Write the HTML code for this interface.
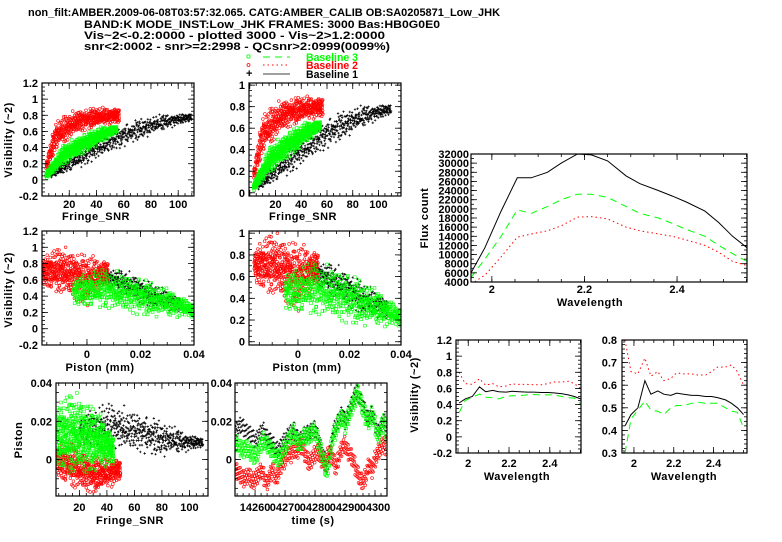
<!DOCTYPE html>
<html><head><meta charset="utf-8"><style>
body{margin:0;background:#fff}
svg{display:block;font-family:"Liberation Sans",sans-serif;font-weight:bold}
text{font-size:11px}
</style></head><body>
<svg id="chart" width="782" height="542" viewBox="0 0 782 542">
<g font-size="11">
<text x="28" y="16" textLength="472" lengthAdjust="spacingAndGlyphs">non_filt:AMBER.2009-06-08T03:57:32.065.  CATG:AMBER_CALIB  OB:SA0205871_Low_JHK</text>
<text x="84" y="28" textLength="356" lengthAdjust="spacingAndGlyphs">BAND:K  MODE_INST:Low_JHK  FRAMES:  3000  Bas:HB0G0E0</text>
<text x="84" y="39" textLength="301" lengthAdjust="spacingAndGlyphs">Vis~2&lt;-0.2:0000  -  plotted  3000  -  Vis~2&gt;1.2:0000</text>
<text x="84" y="50" textLength="306" lengthAdjust="spacingAndGlyphs">snr&lt;2:0002  -  snr&gt;=2:2998  -  QCsnr&gt;2:0999(0099%)</text>
</g>
<g>
<rect x="247" y="55" width="3" height="3" fill="none" stroke="#0f0" stroke-width="0.8"/>
<line x1="263" y1="57" x2="290" y2="57" stroke="#0f0" stroke-dasharray="7,5"/>
<text x="306" y="61" fill="#0f0" textLength="52" lengthAdjust="spacingAndGlyphs">Baseline 3</text>
<circle cx="248.5" cy="65" r="1.5" fill="none" stroke="#f00" stroke-width="0.8"/>
<line x1="263" y1="65" x2="290" y2="65" stroke="#f00" stroke-dasharray="1.5,3"/>
<text x="306" y="69" fill="#f00" textLength="52" lengthAdjust="spacingAndGlyphs">Baseline 2</text>
<text x="246" y="77" font-size="8">+</text>
<line x1="263" y1="74" x2="290" y2="74" stroke="#000" stroke-width="0.8"/>
<text x="306" y="78" textLength="52" lengthAdjust="spacingAndGlyphs">Baseline 1</text>
</g>
<g id="plots"></g>
</svg>
<script>
// ---- line data (wavelength panels) ----
const wavelengths=[1.955,1.985,2.02,2.055,2.085,2.12,2.15,2.185,2.215,2.25,2.29,2.32,2.36,2.39,2.42,2.46,2.49,2.52,2.551];
const fluxB1=[6000,11500,19500,26800,26800,28000,30000,32000,31800,30500,27200,25500,24000,22800,21500,19500,17000,14000,11500];
const fluxB3=[5000,9000,14000,19800,19000,20500,22000,23200,23200,22500,20500,19000,18000,16800,15500,14000,12000,10200,8500];
const fluxB2=[3500,5500,9500,13800,14500,15200,16300,18200,18300,17800,16000,15200,14500,14000,13200,12000,10500,8500,7600];
const visB1=[0.42,0.47,0.5,0.62,0.56,0.575,0.56,0.555,0.565,0.56,0.555,0.555,0.55,0.55,0.545,0.535,0.52,0.5,0.47];
const visB2=[0.8,0.66,0.65,0.72,0.64,0.66,0.62,0.63,0.655,0.65,0.65,0.645,0.645,0.66,0.68,0.68,0.69,0.66,0.6];
const visB3=[0.3,0.45,0.49,0.53,0.49,0.485,0.47,0.5,0.51,0.51,0.52,0.525,0.52,0.52,0.52,0.5,0.485,0.48,0.41];
// ---- piston time series ----
const timeStart=14253;
const pistonB3=[0.008,0.009,0.006,0.005,0.007,0.004,0.003,0.002,0.004,0.008,0.010,0.008,0.006,0.004,0.002,0.000,0.003,0.006,0.010,0.012,0.014,0.010,0.008,0.011,0.013,0.012,0.014,0.015,0.010,0.004,-0.002,-0.006,0.002,0.012,0.016,0.020,0.022,0.018,0.022,0.026,0.030,0.036,0.032,0.026,0.022,0.020,0.024,0.018,0.012,0.016,0.020,0.012];
const pistonB1=[0.014,0.016,0.018,0.017,0.015,0.014,0.012,0.010,0.012,0.014,0.015,0.012,0.010,0.008,0.006,0.005,0.008,0.010,0.013,0.014,0.015,0.012,0.010,0.012,0.014,0.014,0.015,0.016,0.012,0.006,0.000,-0.004,0.004,0.014,0.018,0.021,0.024,0.020,0.024,0.028,0.032,0.036,0.032,0.028,0.024,0.021,0.024,0.019,0.014,0.017,0.020,0.014];
const pistonB2=[-0.004,-0.006,-0.008,-0.010,-0.009,-0.008,-0.012,-0.010,-0.008,-0.006,-0.009,-0.012,-0.008,-0.005,-0.010,-0.006,-0.002,0.000,0.004,0.002,0.006,0.004,0.008,0.005,0.002,-0.002,0.000,0.003,0.004,0.000,-0.002,0.002,0.004,0.000,-0.004,0.002,0.006,0.008,0.004,0.002,-0.002,-0.006,-0.010,-0.012,-0.008,-0.002,-0.006,0.000,0.004,0.006,0.008,0.006];
// ---- scatter cloud ridges (x knots, centre, half-spread) ----
const snrVisB1X=[6,30,50,70,90,110], snrVisB1C=[0.06,0.3,0.48,0.62,0.72,0.78], snrVisB1S=[0.06,0.17,0.19,0.17,0.13,0.06];
const snrVisB2X=[3,10,25,40,57], snrVisB2C=[0.15,0.55,0.72,0.78,0.8], snrVisB2S=[0.14,0.24,0.18,0.15,0.12];
const snrVisB3X=[3,15,30,45,55], snrVisB3C=[0.05,0.3,0.45,0.57,0.63], snrVisB3S=[0.06,0.15,0.15,0.12,0.05];
const pisVisB1X=[0.005,0.015,0.025,0.035], pisVisB1C=[0.65,0.55,0.4,0.3], pisVisB1S=[0.12,0.2,0.2,0.12];
const pisVisB2X=[-0.017,-0.01,0,0.008], pisVisB2C=[0.7,0.72,0.6,0.7], pisVisB2S=[0.25,0.35,0.4,0.18];
const pisVisB3X=[-0.005,0.005,0.02,0.035,0.04], pisVisB3C=[0.45,0.5,0.4,0.28,0.22], pisVisB3S=[0.25,0.3,0.3,0.18,0.1];
const snrPisB1X=[20,40,60,80,100,110], snrPisB1C=[0.015,0.018,0.015,0.011,0.009,0.009], snrPisB1S=[0.012,0.015,0.014,0.012,0.006,0.003];
const snrPisB2X=[3,15,30,45,50], snrPisB2C=[0,-0.003,-0.008,-0.006,-0.005], snrPisB2S=[0.012,0.015,0.012,0.01,0.006];
const snrPisB3X=[3,15,25,35,45], snrPisB3C=[0.012,0.014,0.012,0.010,0.005], snrPisB3S=[0.024,0.026,0.024,0.018,0.01];

const NS='http://www.w3.org/2000/svg';
const root=document.getElementById('plots');
function el(tag,attrs,parent){const e=document.createElementNS(NS,tag);for(const k in attrs)e.setAttribute(k,attrs[k]);(parent||root).appendChild(e);return e;}
function halton(i,b){let f=1,r=0;while(i>0){f/=b;r+=f*(i%b);i=Math.floor(i/b);}return r;}
function interp(xs,ys,x){if(x<=xs[0])return ys[0];for(let i=1;i<xs.length;i++){if(x<=xs[i]){const t=(x-xs[i-1])/(xs[i]-xs[i-1]);return ys[i-1]+t*(ys[i]-ys[i-1]);}}return ys[ys.length-1];}

function panel(name,L,R,T,B,x0,x1,y0,y1,xt,yt){
  const g=el('g',{});
  
  
  const sx=v=>L+(v-x0)/(x1-x0)*(R-L), sy=v=>B-(v-y0)/(y1-y0)*(B-T);
  const clip='c'+name;
  const cp=el('clipPath',{id:clip},g);el('rect',{x:L,y:T,width:R-L,height:B-T},cp);
  const data=el('g',{'clip-path':'url(#'+clip+')'},g);
  const tk=el('g',{stroke:'#000','stroke-width':0.8},g);
  function ticks(a0,a1,step,len,horiz){const n0=Math.ceil(a0/step-1e-6),n1=Math.floor(a1/step+1e-6);
    for(let n=n0;n<=n1;n++){const v=n*step;
      if(horiz){const x=sx(v);el('line',{x1:x,y1:B,x2:x,y2:B-len},tk);el('line',{x1:x,y1:T,x2:x,y2:T+len},tk);}
      else{const y=sy(v);el('line',{x1:L,y1:y,x2:L+len,y2:y},tk);el('line',{x1:R,y1:y,x2:R-len,y2:y},tk);}}}
  ticks(x0,x1,xt[0],6,true);ticks(x0,x1,xt[1],3,true);
  ticks(y0,y1,yt[0],6,false);ticks(y0,y1,yt[1],3,false);
  el('rect',{x:L,y:T,width:R-L,height:B-T,fill:'none',stroke:'#000','stroke-width':1.2},g);
  return {g,data,sx,sy};
}
function xlabels(p,vals,labels,y){vals.forEach((v,i)=>{const t=el('text',{x:p.sx(v),y:y,'text-anchor':'middle'},p.g);t.textContent=labels[i];
  
  });}
function ylabels(p,vals,labels,x){vals.forEach((v,i)=>{const t=el('text',{x:x,y:p.sy(v)+4,'text-anchor':'end'},p.g);t.textContent=labels[i];
  
  });}
function title(p,txt,x,y,rot,name){const t=el('text',{x:x,y:y,'text-anchor':'middle','font-size':12,'letter-spacing':'0.5'},p.g);if(rot)t.setAttribute('transform','rotate(-90 '+x+' '+y+')');t.textContent=txt;
  
  }

function marker(p,kind,x,y){
  const X=p.sx(x),Y=p.sy(y);
  if(kind==='b'){el('path',{d:`M${X-1.2},${Y}H${X+1.2}M${X},${Y-1.2}V${Y+1.2}`,stroke:'#000','stroke-width':0.7},p.data);}
  else if(kind==='r'){el('circle',{cx:X,cy:Y,r:1.4,fill:'none',stroke:'#f00','stroke-width':0.6},p.data);}
  else{el('rect',{x:X-1.4,y:Y-1.4,width:2.8,height:2.8,fill:'none',stroke:'#0f0','stroke-width':0.6},p.data);}
}
function cloud(p,kind,xs,cs,ss,n,seed){
  const g=el('g',{},p.data);
  
  
  const sub={sx:p.sx,sy:p.sy,data:g};
  for(let i=1;i<=n;i++){const j=i+seed;const u=halton(j,2),v=(halton(j,3)+halton(j,5)+halton(j,7))/1.5-1;
    const x=xs[0]+u*(xs[xs.length-1]-xs[0]);marker(sub,kind,x,interp(xs,cs,x)+v*interp(xs,ss,x));}
}
function series(p,kind,ts,vals){
  const g=el('g',{},p.data);
  
  
  const sub={sx:p.sx,sy:p.sy,data:g};
  for(let i=0;i<vals.length-1;i++){for(let k=0;k<8;k++){const t=ts+i+k/8;const v=vals[i]+(vals[i+1]-vals[i])*k/8;
    const off=(halton(i*8+k+1,3)-0.5)*0.009;marker(sub,kind,t,v+off);}}
}
function line(p,xs,ys,color,dash,name){
  const d=xs.map((x,i)=>(i?'L':'M')+p.sx(x).toFixed(1)+','+p.sy(ys[i]).toFixed(1)).join('');
  const e=el('path',{d:d,fill:'none',stroke:color,'stroke-width':1,'stroke-dasharray':dash},p.data);
  
  
}

let p=panel('vis-vs-snr-1',42,194,83,196,0,111.6,-0.2,1.2,[20,5],[0.2,0.05]);
cloud(p,'b',snrVisB1X,snrVisB1C,snrVisB1S,600,0);cloud(p,'r',snrVisB2X,snrVisB2C,snrVisB2S,500,7);cloud(p,'g',snrVisB3X,snrVisB3C,snrVisB3S,600,13);
xlabels(p,[20,40,60,80,100],['20','40','60','80','100'],208);
ylabels(p,[-0.2,0,0.2,0.4,0.6,0.8,1,1.2],['-0.2','0','0.2','0.4','0.6','0.8','1','1.2'],38);
title(p,'Visibility  (~2)',12,140,true,'y-axis-title-visibility');title(p,'Fringe_SNR',96,220,false,'x-axis-title-snr');
p=panel('vis-vs-snr-2',249,401,83,196,-0.6,117.5,-0.03,1.02,[20,5],[0.2,0.05]);
cloud(p,'b',snrVisB1X,snrVisB1C,snrVisB1S,600,0);cloud(p,'r',snrVisB2X,snrVisB2C,snrVisB2S,500,7);cloud(p,'g',snrVisB3X,snrVisB3C,snrVisB3S,600,13);
xlabels(p,[20,40,60,80,100],['20','40','60','80','100'],208);
ylabels(p,[0,0.2,0.4,0.6,0.8,1],['0','0.2','0.4','0.6','0.8','1'],245);
title(p,'Fringe_SNR',303,220,false,'x-axis-title-snr-2');
p=panel('vis-vs-piston-1',42,194,231,345,-0.0168,0.04,-0.2,1.2,[0.02,0.005],[0.2,0.05]);
cloud(p,'b',pisVisB1X,pisVisB1C,pisVisB1S,450,3);cloud(p,'r',pisVisB2X,pisVisB2C,pisVisB2S,550,9);cloud(p,'g',pisVisB3X,pisVisB3C,pisVisB3S,600,17);
xlabels(p,[0,0.02,0.04],['0','0.02','0.04'],358);
ylabels(p,[-0.2,0,0.2,0.4,0.6,0.8,1,1.2],['-0.2','0','0.2','0.4','0.6','0.8','1','1.2'],38);
title(p,'Visibility  (~2)',12,290,true,'y-axis-title-visibility-2');title(p,'Piston  (mm)',100,371,false,'x-axis-title-piston');
p=panel('vis-vs-piston-2',249,401,231,345,-0.019,0.04,-0.03,1.02,[0.02,0.005],[0.2,0.05]);
cloud(p,'b',pisVisB1X,pisVisB1C,pisVisB1S,450,3);cloud(p,'r',pisVisB2X,pisVisB2C,pisVisB2S,550,9);cloud(p,'g',pisVisB3X,pisVisB3C,pisVisB3S,600,17);
xlabels(p,[0,0.02,0.04],['0','0.02','0.04'],358);
ylabels(p,[0,0.2,0.4,0.6,0.8,1],['0','0.2','0.4','0.6','0.8','1'],245);
title(p,'Piston  (mm)',307,371,false,'x-axis-title-piston-2');
p=panel('piston-vs-snr',56,208,383,496,3,113.5,-0.019,0.04,[20,5],[0.02,0.005]);
cloud(p,'b',snrPisB1X,snrPisB1C,snrPisB1S,600,5);cloud(p,'r',snrPisB2X,snrPisB2C,snrPisB2S,500,11);cloud(p,'g',snrPisB3X,snrPisB3C,snrPisB3S,600,19);
xlabels(p,[20,40,60,80,100],['20','40','60','80','100'],511);
ylabels(p,[0,0.02,0.04],['0','0.02','0.04'],52);
title(p,'Piston',22,440,true,'y-axis-title-piston');title(p,'Fringe_SNR',130,524,false,'x-axis-title-snr-3');
p=panel('piston-vs-time',235,387,383,496,14253.3,14304,-0.019,0.04,[10,2],[0.02,0.005]);
series(p,'b',timeStart,pistonB1);series(p,'r',timeStart,pistonB2);series(p,'g',timeStart,pistonB3);
xlabels(p,[14260,14270,14280,14290,14300],['14260','04270','04280','04290','04300'],511);
ylabels(p,[0,0.02,0.04],['0','0.02','0.04'],232);
title(p,'time  (s)',313,524,false,'x-axis-title-time');
p=panel('flux-vs-wavelength',471,747,154,282,1.955,2.551,4000,32000,[0.2,0.05],[2000,1000]);
line(p,wavelengths,fluxB1,'#000','', 'flux-baseline-1');line(p,wavelengths,fluxB3,'#0f0','7,5','flux-baseline-3');line(p,wavelengths,fluxB2,'#f00','1.5,3','flux-baseline-2');
xlabels(p,[2,2.2,2.4],['2','2.2','2.4'],293);
const fy=[],fl=[];for(let v=4000;v<=32000;v+=2000){fy.push(v);fl.push(String(v));}
ylabels(p,fy,fl,469);
title(p,'Flux count',428,218,true,'y-axis-title-flux');title(p,'Wavelength',590,306,false,'x-axis-title-wavelength');
p=panel('vis-vs-wavelength-1',456,581,340,453,1.94,2.553,-0.2,1.2,[0.2,0.05],[0.2,0.05]);
line(p,wavelengths,visB1,'#000','','vis-baseline-1');line(p,wavelengths,visB3,'#0f0','7,5','vis-baseline-3');line(p,wavelengths,visB2,'#f00','1.5,3','vis-baseline-2');
xlabels(p,[2,2.2,2.4],['2','2.2','2.4'],467);
ylabels(p,[-0.2,0,0.2,0.4,0.6,0.8,1,1.2],['-0.2','0','0.2','0.4','0.6','0.8','1','1.2'],452);
title(p,'Visibility  (~2)',418,395,true,'y-axis-title-visibility-3');title(p,'Wavelength',517,480,false,'x-axis-title-wavelength-2');
p=panel('vis-vs-wavelength-2',622,747,340,453,1.94,2.568,0.3,0.8,[0.2,0.05],[0.1,0.02]);
line(p,wavelengths,visB1,'#000','','vis-baseline-1-zoom');line(p,wavelengths,visB3,'#0f0','7,5','vis-baseline-3-zoom');line(p,wavelengths,visB2,'#f00','1.5,3','vis-baseline-2-zoom');
xlabels(p,[2,2.2,2.4],['2','2.2','2.4'],467);
ylabels(p,[0.3,0.4,0.5,0.6,0.7,0.8],['0.3','0.4','0.5','0.6','0.7','0.8'],617);
title(p,'Wavelength',684,480,false,'x-axis-title-wavelength-3');
</script>
</body></html>
